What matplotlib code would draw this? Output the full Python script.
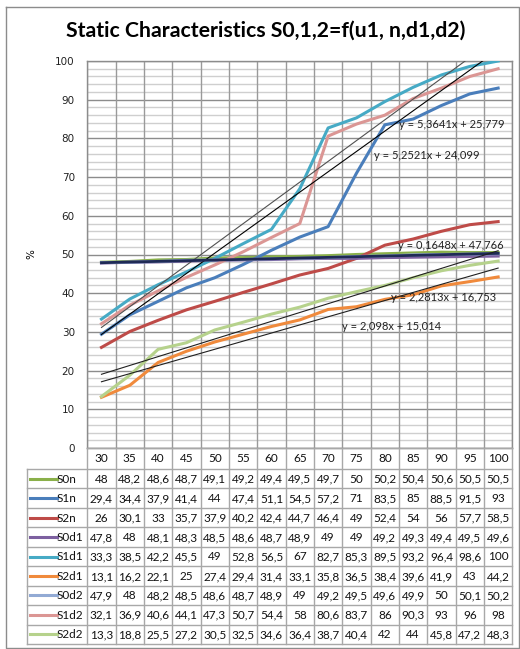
import matplotlib
matplotlib.use('Agg')
import matplotlib.pyplot as plt
import numpy as np

categories = [30, 35, 40, 45, 50, 55, 60, 65, 70, 75, 80, 85, 90, 95, 100]
S0n = [48, 48.2, 48.6, 48.7, 49.1, 49.2, 49.4, 49.5, 49.7, 50, 50.2, 50.4, 50.6, 50.5, 50.5]
S1n = [29.4, 34.4, 37.9, 41.4, 44, 47.4, 51.1, 54.5, 57.2, 71, 83.5, 85, 88.5, 91.5, 93]
S2n = [26, 30.1, 33, 35.7, 37.9, 40.2, 42.4, 44.7, 46.4, 49, 52.4, 54, 56, 57.7, 58.5]
S0d1 = [47.8, 48, 48.1, 48.3, 48.5, 48.6, 48.7, 48.9, 49, 49, 49.2, 49.3, 49.4, 49.5, 49.6]
S1d1 = [33.3, 38.5, 42.2, 45.5, 49, 52.8, 56.5, 67, 82.7, 85.3, 89.5, 93.2, 96.4, 98.6, 100]
S2d1 = [13.1, 16.2, 22.1, 25, 27.4, 29.4, 31.4, 33.1, 35.8, 36.5, 38.4, 39.6, 41.9, 43, 44.2]
S0d2 = [47.9, 48, 48.2, 48.5, 48.6, 48.7, 48.9, 49, 49.2, 49.5, 49.6, 49.9, 50, 50.1, 50.2]
S1d2 = [32.1, 36.9, 40.6, 44.1, 47.3, 50.7, 54.4, 58, 80.6, 83.7, 86, 90.3, 93, 96, 98]
S2d2 = [13.3, 18.8, 25.5, 27.2, 30.5, 32.5, 34.6, 36.4, 38.7, 40.4, 42, 44, 45.8, 47.2, 48.3]

series_names = ['S0n', 'S1n', 'S2n', 'S0d1', 'S1d1', 'S2d1', 'S0d2', 'S1d2', 'S2d2']
series_values = [S0n, S1n, S2n, S0d1, S1d1, S2d1, S0d2, S1d2, S2d2]
series_colors = ['#8AB04A', '#4A7EBB', '#BE4B48', '#7D60A0', '#46AAC5', '#F08A3C',
                 '#92AAD4', '#DB9694', '#B6D28C']

trend_series = ['S1d1', 'S1d2', 'S0d2', 'S2d2', 'S2d1']
trend_labels = ['y = 5,3641x + 25,779', 'y = 5,2521x + 24,099', 'y = 0,1648x + 47,766',
                'y = 2,2813x + 16,753', 'y = 2,098x + 15,014']
trend_label_pos = [(11.5, 83.5), (10.62, 75.5), (11.46, 52.3), (11.21, 38.8), (9.49, 31.3)]
trend_colors = ['#505050', '#000000', '#1F2A55', '#202020', '#202020']
trend_widths = [0.8, 0.8, 2.0, 0.8, 0.8]

W, H = 520, 649
fig = plt.figure(figsize=(W / 100, H / 100), dpi=100)

PL, PR, PT, PB = 87.3, 512.3, 61, 448


def fx(px):
    return px / W


def fy(py):
    return 1 - py / H


ax = fig.add_axes([fx(PL), fy(PB), (PR - PL) / W, (PB - PT) / H])
x = np.arange(1, len(categories) + 1)
ax.set_xlim(0.5, len(categories) + 0.5)
ax.set_ylim(0, 100)

for v in range(0, 101, 2):
    if v % 10 == 0:
        ax.axhline(v, color='#8c8c8c', lw=1.0, zorder=0)
    else:
        ax.axhline(v, color='#cfcfcf', lw=1.0, zorder=0)
for v in np.arange(0.5, len(categories) + 1, 1):
    ax.axvline(v, color='#9a9a9a', lw=1.0, zorder=0)

for name, vals, col in zip(series_names, series_values, series_colors):
    ax.plot(x, vals, color=col, lw=2.2, zorder=3)

lookup = dict(zip(series_names, series_values))
for name, lab, pos, col, lw in zip(trend_series, trend_labels, trend_label_pos, trend_colors, trend_widths):
    k, b = np.polyfit(x, lookup[name], 1)
    ax.plot([x[0], x[-1]], [k * x[0] + b, k * x[-1] + b], color=col, lw=lw, zorder=4)
    ax.text(pos[0], pos[1], lab, fontsize=8, family='Lato', color='#222222',
            ha='left', va='center', zorder=5)

ax.set_xticks([])
ax.set_yticks(range(0, 101, 10))
ax.tick_params(axis='y', length=0, pad=9, labelsize=7.5, labelcolor='#222222')
for s in ax.spines.values():
    s.set_color('#8c8c8c')
    s.set_linewidth(1.0)

ov2 = fig.add_axes([0, 0, 1, 1])
ov2.set_xlim(0, W)
ov2.set_ylim(H, 0)
ov2.axis('off')
ov2.patch.set_alpha(0)

# frame
ov2.plot([6, 519, 519, 6, 6], [7, 7, 648, 648, 7], color='#8c8c8c', lw=1.0)

fig.text(fx(266), fy(31), 'Static Characteristics S0,1,2=f(u1, n,d1,d2)',
         fontsize=15.3, fontweight='bold', family='Lato', ha='center', va='center')
fig.text(fx(31), fy(254), '%', fontsize=7.5, rotation=90, ha='center', va='center')

# table
TL = 27
HB = 469
RB = 644
nrow = len(series_names)
rh = (RB - HB) / nrow
cw = (PR - PL) / len(categories)
gcol = '#a8a8a8'
for i in range(len(categories) + 1):
    xx = PL + i * cw
    ov2.plot([xx, xx], [PB, RB], color=gcol, lw=1.0)
ov2.plot([TL, TL], [HB, RB], color=gcol, lw=1.0)
ov2.plot([PL, PR], [PB, PB], color=gcol, lw=1.0)
for r in range(nrow + 1):
    yy = HB + r * rh
    ov2.plot([TL, PR], [yy, yy], color=gcol, lw=1.0)


def fmt(v):
    if float(v).is_integer():
        return str(int(v))
    return ('%g' % v).replace('.', ',')


for i, c in enumerate(categories):
    ov2.text(PL + (i + 0.5) * cw, (PB + HB) / 2 + 0.5, str(c), fontsize=8.5, family='Lato',
             ha='center', va='center', color='#111111')

for r, (name, vals, col) in enumerate(zip(series_names, series_values, series_colors)):
    yc = HB + (r + 0.5) * rh
    ov2.plot([30, 57], [yc, yc], color=col, lw=2.2)
    ov2.text(57, yc + 0.5, name, fontsize=8.5, family='Lato', ha='left', va='center', color='#111111')
    for i, v in enumerate(vals):
        ov2.text(PL + (i + 0.5) * cw, yc + 0.5, fmt(v), fontsize=8.5, family='Lato',
                 ha='center', va='center', color='#111111')

fig.savefig('out.png', dpi=100)
